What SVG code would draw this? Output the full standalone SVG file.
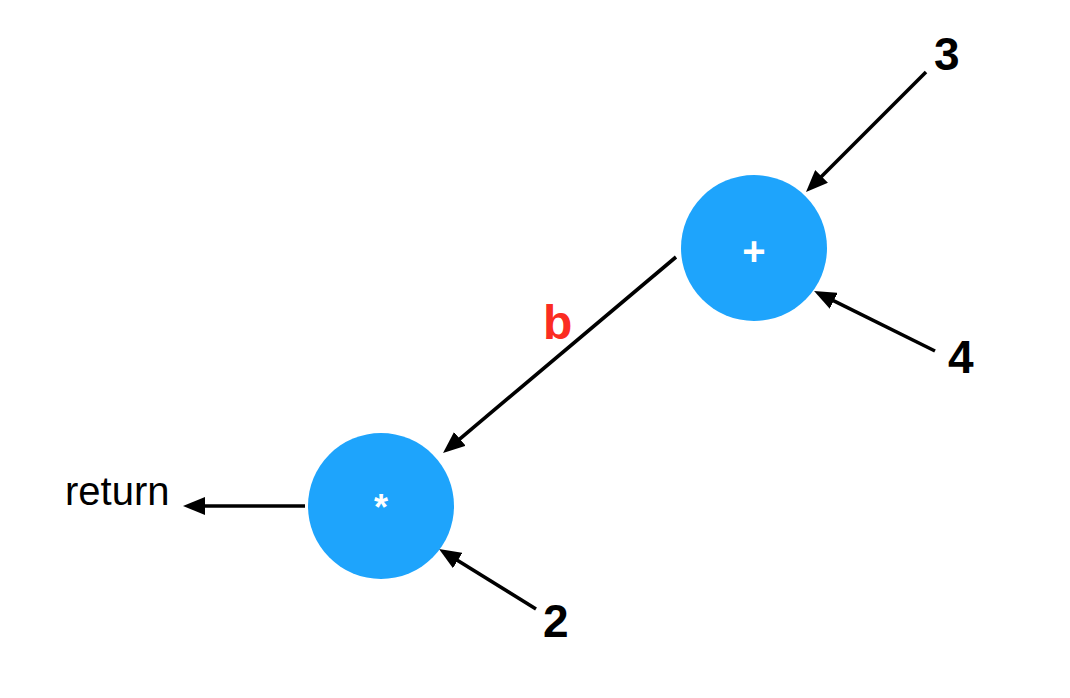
<svg xmlns="http://www.w3.org/2000/svg" width="1070" height="698" viewBox="0 0 1070 698">
<style>
.node{fill:#1EA4FC}
.op{fill:#fff;font-family:"Liberation Sans",Arial,sans-serif;font-weight:bold;text-anchor:middle}
.num{fill:#000;font-family:"Liberation Sans",Arial,sans-serif;font-weight:bold;font-size:46px}
.edge{stroke:#000;stroke-width:3.6;fill:none;marker-end:url(#ah)}
</style>
<defs>
<marker id="ah" markerUnits="userSpaceOnUse" markerWidth="22" markerHeight="18" refX="10" refY="9" orient="auto" viewBox="0 0 22 18">
<path d="M0,0 L22,9 L0,18 z" fill="#000"/>
</marker>
</defs>
<rect width="1070" height="698" fill="#fff"/>
<g id="connectors">
<line class="edge" x1="926" y1="72" x2="814.5" y2="183.5"/>
<line class="edge" x1="935" y1="351" x2="824.8" y2="296.3"/>
<line class="edge" x1="676" y1="257" x2="452.2" y2="445.3"/>
<line class="edge" x1="305" y1="506" x2="195" y2="506"/>
<line class="edge" x1="536" y1="609" x2="449.2" y2="555.3"/>
<text x="543" y="339" fill="#FB2C22" font-family="Liberation Sans, Arial, sans-serif" font-weight="bold" font-size="48">b</text>
</g>
<g id="node-plus">
<circle class="node" cx="754" cy="248" r="73"/>
<text class="op" x="754" y="265" font-size="40">+</text>
</g>
<g id="node-mul">
<circle class="node" cx="381" cy="506" r="73"/>
<text class="op" x="381" y="520" font-size="36">*</text>
</g>
<g id="leaf-3"><text class="num" x="934" y="70">3</text></g>
<g id="leaf-4"><text class="num" x="948" y="373">4</text></g>
<g id="leaf-2"><text class="num" x="543" y="637">2</text></g>
<g id="return"><text x="65" y="505" fill="#000" font-family="Liberation Sans, Arial, sans-serif" font-size="40">return</text></g>
</svg>
